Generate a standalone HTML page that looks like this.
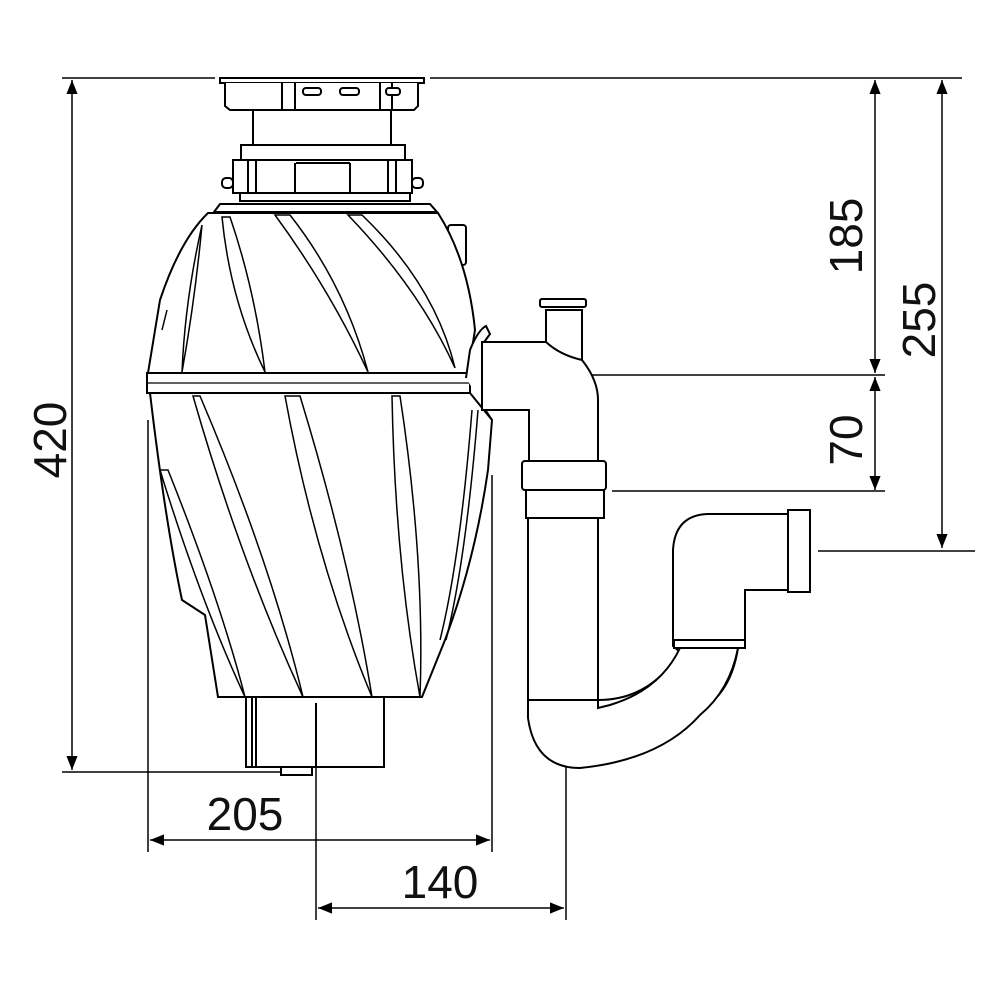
<!DOCTYPE html>
<html><head><meta charset="utf-8"><style>
html,body{margin:0;padding:0;background:#fff}
svg{display:block}
text{font-family:"Liberation Sans",sans-serif;font-size:46px;fill:#111}
</style></head><body>
<svg width="1000" height="1000" viewBox="0 0 1000 1000" xmlns="http://www.w3.org/2000/svg">
<defs>
<marker id="a" viewBox="0 0 10 10" refX="10" refY="5" markerWidth="14" markerHeight="14" markerUnits="userSpaceOnUse" orient="auto-start-reverse"><path d="M0,1 L10,5 L0,9 z" fill="#000"/></marker>
</defs>
<g fill="none" stroke="#000" stroke-width="1.5">
<!-- dimension/extension lines -->
<line x1="62" y1="78" x2="215" y2="78"/>
<line x1="430" y1="78" x2="962" y2="78"/>
<line x1="72" y1="80" x2="72" y2="770" marker-start="url(#a)" marker-end="url(#a)"/>
<line x1="62" y1="772" x2="282" y2="772"/>
<line x1="875" y1="80" x2="875" y2="373" marker-start="url(#a)" marker-end="url(#a)"/>
<line x1="875" y1="377" x2="875" y2="490" marker-start="url(#a)" marker-end="url(#a)"/>
<line x1="942" y1="80" x2="942" y2="548" marker-start="url(#a)" marker-end="url(#a)"/>
<line x1="490" y1="375" x2="885" y2="375"/>
<line x1="612" y1="491" x2="885" y2="491"/>
<line x1="818" y1="551" x2="975" y2="551"/>
<line x1="148" y1="420" x2="148" y2="852"/>
<line x1="492" y1="475" x2="492" y2="852"/>
<line x1="150" y1="840" x2="490" y2="840" marker-start="url(#a)" marker-end="url(#a)"/>
<line x1="316" y1="700" x2="316" y2="920"/>
<line x1="566" y1="312" x2="566" y2="920"/>
<line x1="318" y1="908" x2="564" y2="908" marker-start="url(#a)" marker-end="url(#a)"/>
</g>
<g fill="#fff" stroke="#000" stroke-width="2">
<!-- top flange -->
<rect x="220" y="78" width="204" height="5"/>
<path d="M225,83 L225,106 L230,110 L414,110 L418,106 L418,83"/>
<line x1="282" y1="83" x2="282" y2="110"/><line x1="295" y1="83" x2="295" y2="110"/>
<line x1="380" y1="83" x2="380" y2="110"/><line x1="392" y1="83" x2="392" y2="110"/>
<rect x="303" y="88" width="18" height="7" rx="3"/><rect x="340" y="88" width="19" height="7" rx="3"/><rect x="386" y="88" width="14" height="7" rx="3"/>
<rect x="253" y="110" width="138" height="35"/>
<rect x="241" y="145" width="164" height="15"/>
<rect x="233" y="160" width="179" height="33"/>
<line x1="248" y1="160" x2="248" y2="193"/><line x1="256" y1="160" x2="256" y2="193"/>
<line x1="295" y1="163" x2="295" y2="193"/><line x1="350" y1="163" x2="350" y2="193"/>
<line x1="296" y1="163" x2="350" y2="163"/>
<line x1="388" y1="160" x2="388" y2="193"/><line x1="396" y1="160" x2="396" y2="193"/>
<rect x="222" y="178" width="11" height="10" rx="4"/><rect x="412" y="178" width="11" height="10" rx="4"/>
<rect x="240" y="193" width="170" height="8"/>
<path d="M214,212 L220,204 L430,204 L437,212 Z"/>
<rect x="448" y="225" width="18" height="40" rx="3"/>
<!-- upper body -->
<path d="M208,213 L438,213 Q468,260 475,330 L468,373 L148,373 L160,300 Q180,240 208,213 Z"/>
<!-- belt -->
<rect x="147" y="373" width="323" height="20"/>
<line x1="147" y1="383" x2="470" y2="383" stroke-width="1.2"/>
<!-- lower body -->
<path d="M150,393 L470,393 L492,420 L488,470 Q475,560 445,640 L422,697 L218,697 L205,615 L182,600 Q165,520 150,393 Z"/>
<!-- coupling on body side -->
<path d="M466,378 L470,350 Q478,330 486,326 L490,334 L482,345 L482,405 L492,420" />
<!-- bottom box -->
<rect x="246" y="697" width="138" height="70"/>
<line x1="252" y1="697" x2="252" y2="767"/><line x1="256" y1="697" x2="256" y2="767"/>
<line x1="316" y1="703" x2="316" y2="767"/>
<rect x="281" y="767" width="31" height="8"/>
<!-- pipes -->
<path d="M482,342 L546,342 L546,310 L582,310 L582,360 Q598,380 598,400 L598,461 L529,461 L529,410 L482,410 Z"/>
<rect x="540" y="299" width="46" height="8" rx="2"/>
<path d="M546,342 Q560,355 582,360" fill="none"/>
<rect x="522" y="461" width="84" height="29" rx="3"/>
<rect x="526" y="490" width="78" height="28"/>
<path d="M673,646 L673,550 Q675,515 708,514 L790,514 L790,590 L745,590 L745,645 L738,648 Q730,700 690,715 Q640,712 598,708 L598,700 Q650,700 680,652 Z"/>
<path d="M528,700 L528,718 Q535,768 580,768 Q660,760 700,715 Q730,690 738,648 L680,648 Q660,690 610,705 L598,708 L598,700 Z"/>
<rect x="528" y="518" width="70" height="182"/>
<rect x="674" y="640" width="71" height="8"/>
<rect x="788" y="510" width="22" height="82"/>
</g>
<!-- ribs -->
<g fill="none" stroke="#000" stroke-width="1.5">
<path d="M202,225 Q185,300 182,372 Q195,300 202,225"/>
<path d="M222,217 Q230,300 265,372 Q255,290 230,217 Z"/>
<path d="M275,215 Q330,290 368,372 Q345,285 290,215 Z"/>
<path d="M348,215 Q420,290 455,368 Q435,285 362,215 Z"/>
<path d="M193,396 Q240,560 303,697 Q270,560 200,396 Z"/>
<path d="M285,396 Q315,560 372,697 Q350,560 300,396 Z"/>
<path d="M392,396 Q395,560 420,697 Q425,560 400,396 Z"/>
<path d="M160,470 Q200,600 245,697 Q220,600 168,470 Z"/>
<path d="M472,410 Q460,560 440,640" />
<path d="M478,410 Q466,560 446,640" />
<line x1="162" y1="330" x2="167" y2="310"/>
</g>
<text transform="translate(66,440) rotate(-90)" text-anchor="middle">420</text>
<text transform="translate(862,236) rotate(-90)" text-anchor="middle">185</text>
<text transform="translate(862,440) rotate(-90)" text-anchor="middle">70</text>
<text transform="translate(935,320) rotate(-90)" text-anchor="middle">255</text>
<text x="245" y="830" text-anchor="middle">205</text>
<text x="440" y="898" text-anchor="middle">140</text>
</svg>
</body></html>
